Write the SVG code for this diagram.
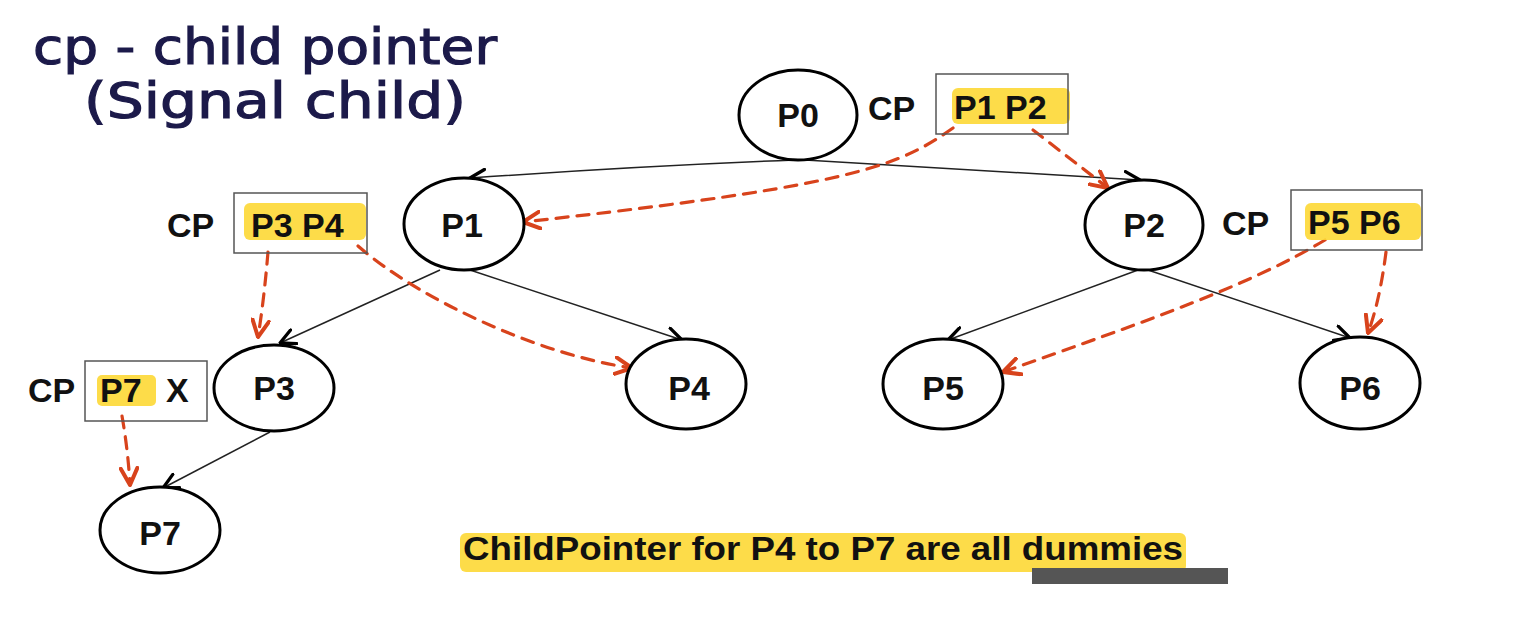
<svg xmlns="http://www.w3.org/2000/svg" width="1534" height="630" viewBox="0 0 1534 630">
<defs>
<style>
.node ellipse{fill:#fff;stroke:#000;stroke-width:3}
.lbl{font-family:"Liberation Sans",Arial,sans-serif;font-weight:bold;font-size:34px;fill:#111}
.hl{fill:#fdd835;opacity:0.9}
.box{fill:none;stroke:#555;stroke-width:1.5}
.edge{fill:none;stroke:#222;stroke-width:1.5}
.ptr{fill:none;stroke:#d8431c;stroke-width:3.2;stroke-dasharray:12 9;stroke-linecap:round}
.hand{font-family:"DejaVu Sans",sans-serif;font-size:50px;fill:#1c1a4a;stroke:#1c1a4a;stroke-width:1.2}
</style>
<marker id="ab" viewBox="0 0 12 12" refX="11" refY="6" markerWidth="18" markerHeight="18" markerUnits="userSpaceOnUse" orient="auto">
<path d="M1,1 L11,6 L1,11" fill="none" stroke="#000" stroke-width="2.2" stroke-linecap="round" stroke-linejoin="round"/>
</marker>
<marker id="ar" viewBox="0 0 12 12" refX="11" refY="6" markerWidth="20" markerHeight="20" markerUnits="userSpaceOnUse" orient="auto">
<path d="M1,1 L11,6 L1,11" fill="none" stroke="#d8431c" stroke-width="2.4" stroke-linecap="round" stroke-linejoin="round"/>
</marker>
</defs>
<rect width="1534" height="630" fill="#fff"/>

<g id="title">
<text class="hand" x="33" y="64" textLength="464" lengthAdjust="spacingAndGlyphs">cp - child pointer</text>
<text class="hand" x="84" y="118" textLength="382" lengthAdjust="spacingAndGlyphs">(Signal child)</text>
</g>

<g id="connectors">
<path class="edge" d="M795,160 Q640,166 470,178" marker-end="url(#ab)"/>
<path class="edge" d="M805,160 Q980,170 1140,180" marker-end="url(#ab)"/>
<path class="edge" d="M440,270 L280,343" marker-end="url(#ab)"/>
<path class="edge" d="M470,270 L682,340" marker-end="url(#ab)"/>
<path class="edge" d="M1138,270 L948,340" marker-end="url(#ab)"/>
<path class="edge" d="M1148,270 L1350,338" marker-end="url(#ab)"/>
<path class="edge" d="M270,432 L163,488" marker-end="url(#ab)"/>

<path class="ptr" d="M953,128 C900,165 860,185 523,222" marker-end="url(#ar)"/>
<path class="ptr" d="M1033,130 L1108,188" marker-end="url(#ar)"/>
<path class="ptr" d="M268,252 Q264,300 258,337" marker-end="url(#ar)"/>
<path class="ptr" d="M358,246 C420,300 540,355 632,368" marker-end="url(#ar)"/>
<path class="ptr" d="M1325,240 C1250,285 1150,320 1003,372" marker-end="url(#ar)"/>
<path class="ptr" d="M1386,252 Q1380,300 1368,333" marker-end="url(#ar)"/>
<path class="ptr" d="M122,416 Q128,450 130,485" marker-end="url(#ar)"/>
</g>

<g id="P0" class="node">
<ellipse cx="798" cy="115" rx="59" ry="45"/>
<text class="lbl" x="798" y="127" text-anchor="middle">P0</text>
</g>
<g id="P0cp">
<text class="lbl" x="868" y="120">CP</text>
<rect class="hl" x="952" y="88" width="118" height="36" rx="6"/>
<rect class="box" x="936" y="74" width="132" height="60"/>
<text class="lbl" x="954" y="119">P1 P2</text>
</g>

<g id="P1" class="node">
<ellipse cx="464" cy="224" rx="60" ry="46"/>
<text class="lbl" x="462" y="237" text-anchor="middle">P1</text>
</g>
<g id="P1cp">
<text class="lbl" x="167" y="237">CP</text>
<rect class="hl" x="244" y="203" width="122" height="37" rx="6"/>
<rect class="box" x="234" y="193" width="133" height="60"/>
<text class="lbl" x="251" y="237">P3 P4</text>
</g>

<g id="P2" class="node">
<ellipse cx="1144" cy="225" rx="59" ry="45"/>
<text class="lbl" x="1144" y="237" text-anchor="middle">P2</text>
</g>
<g id="P2cp">
<text class="lbl" x="1222" y="235">CP</text>
<rect class="hl" x="1305" y="203" width="116" height="37" rx="6"/>
<rect class="box" x="1291" y="190" width="131" height="60"/>
<text class="lbl" x="1308" y="234">P5 P6</text>
</g>

<g id="P3" class="node">
<ellipse cx="274" cy="388" rx="60" ry="43"/>
<text class="lbl" x="274" y="400" text-anchor="middle">P3</text>
</g>
<g id="P3cp">
<text class="lbl" x="28" y="402">CP</text>
<rect class="hl" x="97" y="375" width="59" height="31" rx="5"/>
<rect class="box" x="85" y="361" width="122" height="60"/>
<text class="lbl" x="100" y="402">P7</text>
<text class="lbl" x="166" y="402">X</text>
</g>

<g id="P4" class="node">
<ellipse cx="686" cy="384" rx="60" ry="45"/>
<text class="lbl" x="689" y="400" text-anchor="middle">P4</text>
</g>
<g id="P5" class="node">
<ellipse cx="943" cy="384" rx="60" ry="45"/>
<text class="lbl" x="943" y="400" text-anchor="middle">P5</text>
</g>
<g id="P6" class="node">
<ellipse cx="1360" cy="383" rx="60" ry="46"/>
<text class="lbl" x="1360" y="400" text-anchor="middle">P6</text>
</g>
<g id="P7" class="node">
<ellipse cx="160" cy="530" rx="60" ry="43"/>
<text class="lbl" x="160" y="545" text-anchor="middle">P7</text>
</g>

<g id="note">
<rect class="hl" x="460" y="533" width="726" height="39" rx="6"/>
<text class="lbl" x="463" y="560" style="font-size:34px" textLength="720" lengthAdjust="spacingAndGlyphs">ChildPointer for P4 to P7 are all dummies</text>
<rect x="1032" y="568" width="196" height="16" fill="#555"/>
</g>
</svg>
